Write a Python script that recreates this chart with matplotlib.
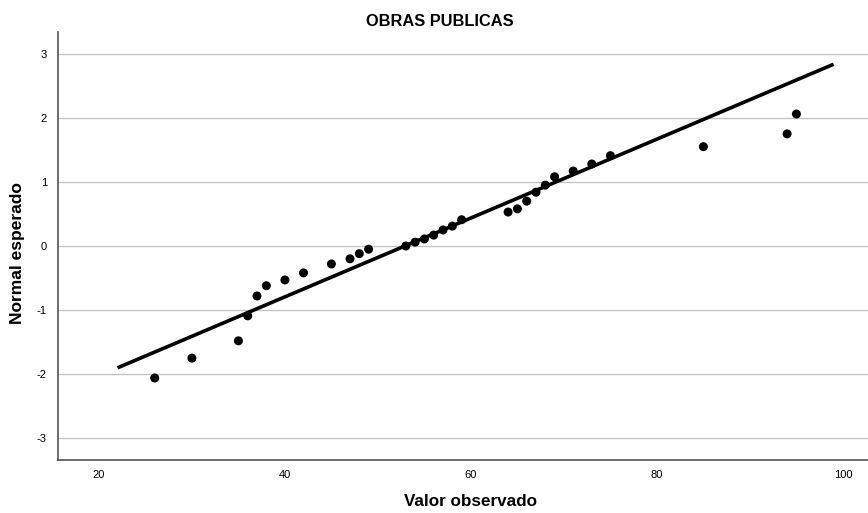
import matplotlib
matplotlib.use("Agg")
import matplotlib.pyplot as plt
import numpy as np

plt.rcParams['font.family'] = ['Liberation Sans', 'DejaVu Sans']
plt.rcParams['axes.unicode_minus'] = False

title = "OBRAS PUBLICAS"
xlabel = "Valor observado"
ylabel = "Normal esperado"

obs_values = [26, 30, 35, 36, 37, 38, 40, 42, 45, 47, 48, 49, 53, 54, 55, 56, 57, 58, 59,
              64, 65, 66, 67, 68, 69, 71, 73, 75, 85, 94, 95]
expected_normal = [-2.06, -1.75, -1.48, -1.09, -0.78, -0.62, -0.53, -0.42, -0.28, -0.20, -0.12, -0.05,
                   0.00, 0.06, 0.11, 0.17, 0.25, 0.31, 0.41,
                   0.53, 0.58, 0.70, 0.84, 0.95, 1.08, 1.17, 1.28, 1.41, 1.55, 1.75, 2.06]

line_mean = 52.9
line_sd = 16.25
line_x = [22, 99]

xticks = [20, 40, 60, 80, 100]
yticks = [-3, -2, -1, 0, 1, 2, 3]

fig = plt.figure(figsize=(8.68, 5.13), dpi=100)
ax = fig.add_axes([58/868, 1 - 460/513, (868-58)/868, (460-32)/513])

ax.set_xlim(15.6, 102.7)
ax.set_ylim(-3.34, 3.34)

for yt in yticks:
    ax.axhline(yt, color='#c4c4c4', linewidth=1.0, zorder=0)

lx = np.array(line_x, dtype=float)
ly = (lx - line_mean) / line_sd
ax.plot(lx, ly, color='black', linewidth=2.6, solid_capstyle='butt', zorder=2)

ax.scatter(obs_values, expected_normal, s=42, color='black', edgecolors='none', zorder=3)

ax.set_xticks(xticks)
ax.set_yticks(yticks)
ax.tick_params(axis='x', length=0, labelsize=8, pad=7, colors='black')
ax.tick_params(axis='y', length=0, labelsize=8, pad=8, colors='black')

for s in ['top', 'right']:
    ax.spines[s].set_visible(False)
for s in ['left', 'bottom']:
    ax.spines[s].set_color('#555555')
    ax.spines[s].set_linewidth(1.2)

fig.text(440/868, 1 - 22/513, title, ha='center', va='center', fontsize=11.8, fontweight='bold')
fig.text(470/868, 1 - 501/513, xlabel, ha='center', va='center', fontsize=12.3, fontweight='bold')
fig.text(18/868, 1 - 253/513, ylabel, ha='center', va='center', rotation=90, fontsize=12.5, fontweight='bold')

fig.savefig("out.png", dpi=100)
